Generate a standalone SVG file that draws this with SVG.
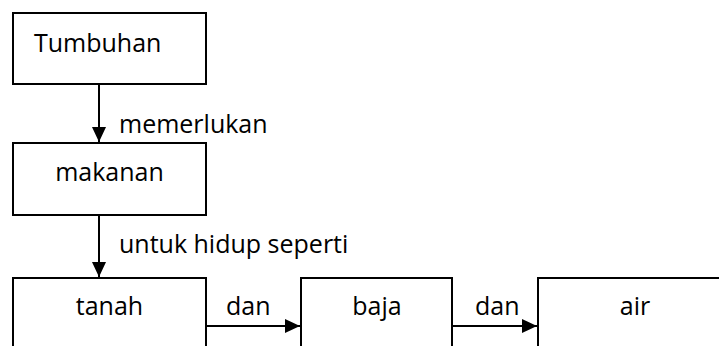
<svg xmlns="http://www.w3.org/2000/svg" width="719" height="346" viewBox="0 0 719 346">
<style>
.box{fill:#fff;stroke:#000;stroke-width:2}
.t{font-family:"Open Sans","Noto Sans",sans-serif;font-size:25px;fill:#000}
.c{text-anchor:middle}
.conn{stroke:#000;stroke-width:2;fill:none;marker-end:url(#ah)}
</style>
<defs>
<marker id="ah" markerUnits="userSpaceOnUse" markerWidth="16" markerHeight="14" viewBox="0 0 16 14" refX="15" refY="7" orient="auto">
<path d="M0,0 L15,7 L0,14 Z" fill="#000"/>
</marker>
</defs>
<rect width="719" height="346" fill="#fff"/>
<g id="connectors">
<line class="conn" x1="99" y1="84" x2="99" y2="142"/>
<line class="conn" x1="99" y1="215" x2="99" y2="277"/>
<line class="conn" x1="206" y1="326" x2="300" y2="326"/>
<line class="conn" x1="452" y1="326" x2="537" y2="326"/>
<text class="t" x="119" y="133">memerlukan</text>
<text class="t" x="119" y="253">untuk hidup seperti</text>
<text class="t" x="226" y="315">dan</text>
<text class="t" x="475" y="315">dan</text>
</g>
<g id="tumbuhan">
<rect class="box" x="13" y="13" width="193" height="71"/>
<text class="t" x="34" y="52">Tumbuhan</text>
</g>
<g id="makanan">
<rect class="box" x="13" y="143" width="193" height="72"/>
<text class="t c" x="109.5" y="181">makanan</text>
</g>
<g id="tanah">
<rect class="box" x="13" y="278" width="193" height="90"/>
<text class="t c" x="109.5" y="315">tanah</text>
</g>
<g id="baja">
<rect class="box" x="301" y="278" width="151" height="90"/>
<text class="t c" x="377" y="315">baja</text>
</g>
<g id="air">
<rect class="box" x="538" y="278" width="194" height="90"/>
<text class="t c" x="635" y="315">air</text>
</g>
</svg>
